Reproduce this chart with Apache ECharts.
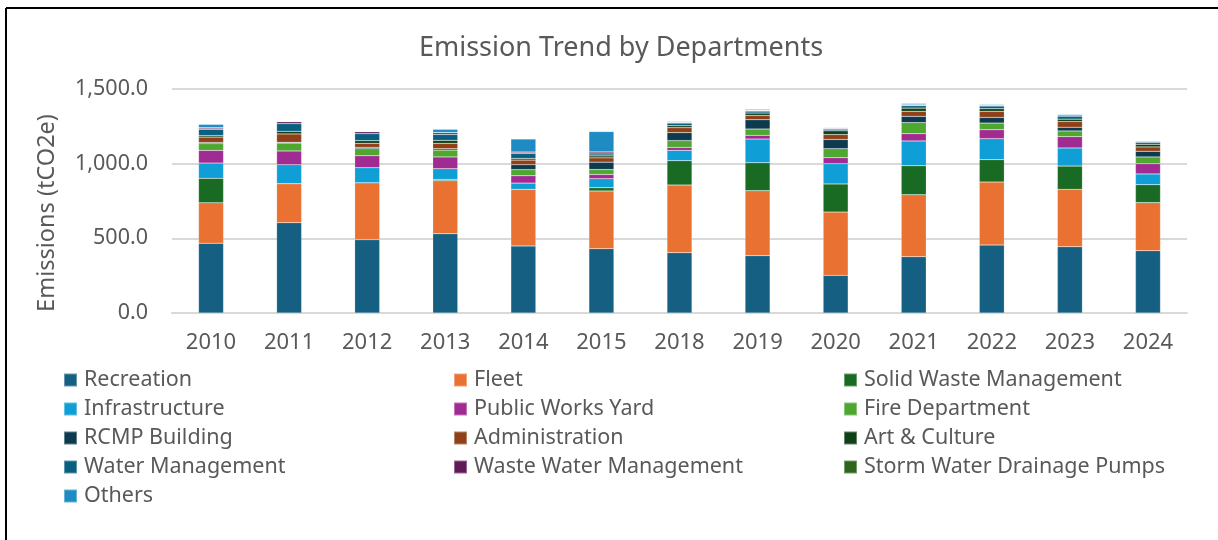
<!DOCTYPE html>
<html>
<head>
<meta charset="utf-8">
<title>Emission Trend by Departments</title>
<script src="https://cdn.jsdelivr.net/npm/echarts@6/dist/echarts.min.js"></script>
<style>
  html, body { margin: 0; padding: 0; background: #ffffff; }
  #chart { width: 1218px; height: 540px; }
</style>
</head>
<body>
<div id="chart"></div>
<script>
// Reporting years
const years = ['2010', '2011', '2012', '2013', '2014', '2015', '2018', '2019', '2020', '2021', '2022', '2023', '2024'];

// Emissions per department, tCO2e
const recreation   = [467, 605, 491, 531, 449, 431, 404, 384, 252, 377, 455, 444, 417];
const fleet        = [271, 261, 381, 355, 379, 386, 453, 435, 424, 415, 422, 384, 322];
const solidWaste   = [164, 0, 0, 8, 0, 22, 163, 187, 188, 194, 150, 156, 120];
const infrastructure = [102, 127, 101, 72, 42, 60, 69, 159, 136, 166, 140, 121, 72];
const publicWorks  = [85, 92, 80, 79, 49, 29, 20, 25, 40, 49, 60, 76, 69];
const fireDept     = [45, 53, 47, 46, 41, 33, 45, 42, 60, 74, 45, 38, 45];
const rcmp         = [8, 5, 9, 9, 33, 49, 54, 62, 62, 42, 38, 25, 38];
const administration = [36, 56, 27, 36, 31, 29, 33, 29, 33, 33, 40, 38, 29];
const artCulture   = [10, 18, 18, 20, 11, 13, 13, 16, 25, 22, 18, 16, 18];
const waterMgmt    = [42, 51, 47, 40, 33, 13, 18, 13, 11, 16, 18, 20, 13];
const wasteWater   = [8, 13, 13, 11, 9, 13, 4, 4, 5, 5, 5, 7, 5];
const stormWater   = [3, 1, 1, 1, 1, 1, 1, 2, 1, 2, 2, 2, 1];
const others       = [22, 3, 2, 22, 87, 136, 5, 6, 4, 8, 5, 5, 4];

// Y-axis ticks
const yTicks = [0, 500, 1000, 1500];

const departments = [
  { name: 'Recreation', data: recreation, color: '#156082' },
  { name: 'Fleet', data: fleet, color: '#E97132' },
  { name: 'Solid Waste Management', data: solidWaste, color: '#196B24' },
  { name: 'Infrastructure', data: infrastructure, color: '#0F9ED5' },
  { name: 'Public Works Yard', data: publicWorks, color: '#A02B93' },
  { name: 'Fire Department', data: fireDept, color: '#4EA72E' },
  { name: 'RCMP Building', data: rcmp, color: '#0D3A4E' },
  { name: 'Administration', data: administration, color: '#8F4017' },
  { name: 'Art & Culture', data: artCulture, color: '#0F4016' },
  { name: 'Water Management', data: waterMgmt, color: '#095F80' },
  { name: 'Waste Water Management', data: wasteWater, color: '#601A58' },
  { name: 'Storm Water Drainage Pumps', data: stormWater, color: '#2F641C' },
  { name: 'Others', data: others, color: '#1E8BC3' }
];

const FONT = '"Noto Sans", "Liberation Sans", sans-serif';
const GREY = '#595959';

const legendColumns = [
  ['Recreation', 'Infrastructure', 'RCMP Building', 'Water Management', 'Others'],
  ['Fleet', 'Public Works Yard', 'Administration', 'Waste Water Management'],
  ['Solid Waste Management', 'Fire Department', 'Art & Culture', 'Storm Water Drainage Pumps']
];
const legendLefts = [58, 448, 838];

function fmt(v) {
  return v.toLocaleString('en-US', { minimumFractionDigits: 1, maximumFractionDigits: 1 });
}

const chart = echarts.init(document.getElementById('chart'), null, { renderer: 'canvas' });

chart.setOption({
  backgroundColor: '#ffffff',
  animation: false,
  title: {
    text: 'Emission Trend by Departments',
    left: 616,
    textAlign: 'center',
    top: 30,
    textStyle: { fontFamily: FONT, fontSize: 27, fontWeight: 'normal', color: GREY }
  },
  grid: { left: 172, right: 31, top: 89, bottom: 227, containLabel: false },
  legend: legendColumns.map((col, i) => ({
    data: col,
    orient: 'vertical',
    left: legendLefts[i],
    top: 364,
    itemWidth: 13,
    itemHeight: 13,
    itemGap: 7,
    icon: 'rect',
    selectedMode: false,
    textStyle: { fontFamily: FONT, fontSize: 21.5, color: GREY, lineHeight: 22, padding: [0, 0, 0, 2] }
  })),
  xAxis: {
    type: 'category',
    data: years,
    axisTick: { show: false },
    axisLine: { show: true, lineStyle: { color: '#d9d9d9', width: 2 } },
    axisLabel: { fontFamily: FONT, fontSize: 22, color: GREY, margin: 19 }
  },
  yAxis: {
    type: 'value',
    min: yTicks[0],
    max: yTicks[yTicks.length - 1],
    interval: yTicks[1] - yTicks[0],
    name: 'Emissions (tCO2e)',
    nameLocation: 'middle',
    nameRotate: 90,
    nameGap: 113,
    nameTextStyle: { fontFamily: FONT, fontSize: 23.5, color: GREY, padding: [0, 24, 0, 0] },
    axisLine: { show: false },
    axisTick: { show: false },
    splitLine: { lineStyle: { color: '#d9d9d9', width: 2 } },
    axisLabel: { fontFamily: FONT, fontSize: 21.5, color: GREY, margin: 24, formatter: fmt }
  },
  series: departments.map(d => ({
    name: d.name,
    type: 'bar',
    stack: 'total',
    barWidth: 25,
    data: d.data,
    itemStyle: { color: d.color, borderColor: 'rgba(255,255,255,0.35)', borderWidth: 0.5 },
    emphasis: { disabled: true }
  })),
  graphic: [
    { type: 'line', shape: { x1: 6, y1: 8, x2: 1218, y2: 8 }, style: { stroke: '#000', lineWidth: 2 }, z: 100 },
    { type: 'line', shape: { x1: 6, y1: 8, x2: 6, y2: 540 }, style: { stroke: '#000', lineWidth: 2 }, z: 100 }
  ]
});
</script>
</body>
</html>
